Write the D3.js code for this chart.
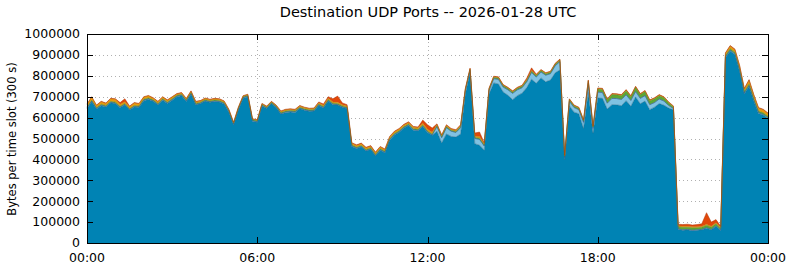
<!DOCTYPE html>
<html>
<head>
<meta charset="utf-8">
<script src="https://cdn.jsdelivr.net/npm/d3@7"></script>
<style>
  body { margin: 0; background: #fff; }
  text { font-family: "DejaVu Sans", sans-serif; fill: #000; }
</style>
</head>
<body>
<svg id="chart" width="790" height="267"></svg>
<script>
// values in thousands of bytes, one slot every 10 minutes from 00:00 to 24:00
var UNIT = 1000;
var keys = ["main", "lightblue", "darkblue", "green", "orange", "red"];
var colors = {main: "#0083b4", lightblue: "#80c2e2", darkblue: "#3a5ea8", green: "#5ea634", orange: "#eb9a0c", red: "#e2470a"};
var edges = {main: "#266b88", lightblue: "#5d9ab8", darkblue: "#2b4a86", green: "#4a8428", orange: "#b87808", red: "#b03808"};

var mainPort = [
  644,677,641,657,651,671,667,647,661,636,
  651,649,681,687,678,661,683,668,683,700,
  705,677,713,661,667,679,673,677,675,665,
  627,566,638,693,700,583,578,656,643,666,
  648,617,625,627,625,643,635,630,631,658,
  646,679,662,660,649,643,462,452,460,440,
  448,417,444,432,492,517,530,550,562,540,
  537,558,529,515,535,479,522,510,507,522,
  713,816,475,468,444,713,766,761,722,707,
  686,705,717,744,784,764,790,771,780,814,
  828,398,656,626,618,548,721,525,694,692,
  641,662,661,657,681,654,699,666,679,638,
  650,667,659,646,637,65,61,63,59,61,
  63,71,63,80,60,886,919,902,822,714,
  750,680,620,612,596
];
var lightBluePort = [
  2,2,2,2,2,2,2,2,2,2, 2,2,2,2,2,2,2,2,2,2,
  2,2,2,2,2,2,2,2,2,2, 2,2,2,2,2,2,2,2,2,2,
  2,2,2,2,2,2,2,2,2,2, 2,2,2,2,2,2,2,2,2,2,
  2,2,2,2,2,2,2,2,2,2, 2,2,2,2,
  22,25,30,25,22,30, 15,10, 25,28,20,
  15,20,22,24,26,30,28,26,28,32,30,28,32,30,34,40,
  10, 22,22,20,25,25,20,
  28,28,28,30,30,30,28,28,26,26,26,24,22,22,20,12,6,
  2,2,2,2,2,2,2,2,2,2,
  3,3,3,3,3,3,3,3,3,3
];
var darkBluePort = [];
for (var i = 0; i < 145; i++) darkBluePort.push(0);
darkBluePort[105] = 5; darkBluePort[106] = 22; darkBluePort[107] = 3;
var greenPort = [
  5,5,5,5,5,5,5,5,5,5, 5,5,5,5,5,5,5,5,5,5,
  5,5,5,5,5,5,5,5,5,5, 5,5,5,5,5,5,5,5,5,5,
  5,5,5,5,5,5,5,5,5,5, 5,5,5,5,5,5,5,5,5,5,
  5,5,5,5,5,5,5,5,5,5, 5,5,5,5,5,5,5,5,5,5,
  5,5,5,5,5,
  7,7,7,7,7,7,7,7,7,7,7,7,7,7,7,7,7,7,7,7,7,7,7,
  15,15,16,18,18,18,20,18,20,18,20,18,18,16,16,12,8,
  10,12,10,12,10,10,12,10,10,8,
  8,8,8,8,8,8,8,8,8,8
];
var orangePort = [
  12,14,10,12,10,12,14,10,8,10,12,10,10,10,8,8,8,8,8,6,6,6,6,8,6,6,6,6,6,6,4,
  3,3,3,3,3,3,3,3,3,3,
  6,6,6,6,6,6,6,6,6,6,6,6,6,6,6,
  8,8,8,8,8,8,8,8,8,8,8,8,8,8,8,8,8,8,
  5,6,6,5,5,6,4,3,6,8,6,
  3,3,3,3,3,3,3,3,3,3, 3,3,3,3,3,3,3,3,3,3,
  3,3,3,3,3,3,3,3,3,3, 3,3,3,3,3,3,3,3,3,3,
  5,5,5,5,5,5,5,5,5,5,
  10,12,12,14,12,18,16,14,14,12
];
var redPort = [
  2,2,2,2,2,2,2, 8, 14,
  2,2,2,2,2,2,2,2,2,2, 2,2,2,2,2,2,2,2,2,2,
  2,2,2,2,2,2,2,2,2,2, 2,2,2,2,2,2,2,2,2,2,
  4,6,8,15,30,8,6,
  3,3,3,3,3,3,3,3,3,3,3,3,3,3,3,
  15,22,20,
  3,3,3,3,3,3,3,3,
  15,22,5,
  2,2,2,2,2,2,2,2,
  8,12,4,
  2,2,2,2,2,2,2,2,2,2, 2,2,2,2,2,2,2,2,2,2, 2,2,2,2,2,2,2,2,2,
  8,8,10,8,10,12,55,20,15,5,
  3,3,3,3,3,3,3,3,3,3
];
var yTicks = [0,100000,200000,300000,400000,500000,600000,700000,800000,900000,1000000];
var titleText = "Destination UDP Ports -- 2026-01-28 UTC";
var yLabel = "Bytes per time slot (300 s)";

var day0 = Date.UTC(2026, 0, 28);
var table = [];
for (var i = 0; i < mainPort.length; i++) {
  table.push({
    time: new Date(day0 + i * 600000),
    main: mainPort[i] * UNIT,
    lightblue: lightBluePort[i] * UNIT,
    darkblue: darkBluePort[i] * UNIT,
    green: greenPort[i] * UNIT,
    orange: orangePort[i] * UNIT,
    red: redPort[i] * UNIT
  });
}

var svg = d3.select("#chart");
var plotLeft = 87, plotRight = 768, plotTop = 34, plotBottom = 243;

var x = d3.scaleUtc()
  .domain([new Date(day0), new Date(day0 + 86400000)])
  .range([plotLeft, plotRight]);
var y = d3.scaleLinear().domain([0, 1000000]).range([plotBottom, plotTop]);
var xTicks = d3.utcHour.every(6).range(new Date(day0), new Date(day0 + 86400001));

// grid
var grid = svg.append("g");
grid.selectAll(".hg").data(yTicks.slice(1, -1)).enter().append("line")
  .attr("x1", plotLeft).attr("x2", plotRight)
  .attr("y1", function(d){ return Math.round(y(d)) + 0.5; })
  .attr("y2", function(d){ return Math.round(y(d)) + 0.5; })
  .attr("stroke", "#b0b0b0").attr("stroke-width", 1).attr("stroke-dasharray", "1,3");
grid.selectAll(".vg").data(xTicks.slice(1, -1)).enter().append("line")
  .attr("y1", plotTop).attr("y2", plotBottom)
  .attr("x1", function(d){ return Math.round(x(d)) + 0.5; })
  .attr("x2", function(d){ return Math.round(x(d)) + 0.5; })
  .attr("stroke", "#b0b0b0").attr("stroke-width", 1).attr("stroke-dasharray", "1,3");

// stacked areas
var stack = d3.stack().keys(keys);
var layers = stack(table);
var area = d3.area()
  .x(function(d){ return x(d.data.time); })
  .y0(function(d){ return y(d[0]); })
  .y1(function(d){ return y(d[1]); });
var topLine = d3.line()
  .x(function(d){ return x(d.data.time); })
  .y(function(d){ return y(d[1]); });

svg.append("g").selectAll("path").data(layers).enter().append("path")
  .attr("d", area)
  .attr("fill", function(d){ return colors[d.key]; });
svg.append("g").selectAll("path").data(layers).enter().append("path")
  .attr("d", topLine)
  .attr("fill", "none")
  .attr("stroke", function(d){ return edges[d.key]; })
  .attr("stroke-width", 0.5);

// frame and ticks
svg.append("rect")
  .attr("x", plotLeft + 0.5).attr("y", plotTop + 0.5)
  .attr("width", plotRight - plotLeft).attr("height", plotBottom - plotTop)
  .attr("fill", "none").attr("stroke", "#000").attr("stroke-width", 1);

var ticks = svg.append("g").attr("stroke", "#000").attr("stroke-width", 1);
ticks.selectAll(".yl").data(yTicks).enter().append("line")
  .attr("x1", plotLeft).attr("x2", plotLeft + 6)
  .attr("y1", function(d){ return Math.round(y(d)) + 0.5; })
  .attr("y2", function(d){ return Math.round(y(d)) + 0.5; });
ticks.selectAll(".yr").data(yTicks).enter().append("line")
  .attr("x1", plotRight - 6).attr("x2", plotRight)
  .attr("y1", function(d){ return Math.round(y(d)) + 0.5; })
  .attr("y2", function(d){ return Math.round(y(d)) + 0.5; });
ticks.selectAll(".xt").data(xTicks).enter().append("line")
  .attr("y1", plotTop).attr("y2", plotTop + 6)
  .attr("x1", function(d){ return Math.round(x(d)) + 0.5; })
  .attr("x2", function(d){ return Math.round(x(d)) + 0.5; });
ticks.selectAll(".xb").data(xTicks).enter().append("line")
  .attr("y1", plotBottom - 6).attr("y2", plotBottom)
  .attr("x1", function(d){ return Math.round(x(d)) + 0.5; })
  .attr("x2", function(d){ return Math.round(x(d)) + 0.5; });

// labels
svg.append("g").selectAll("text").data(yTicks).enter().append("text")
  .attr("x", plotLeft - 7)
  .attr("y", function(d){ return y(d); })
  .attr("dy", "0.35em")
  .attr("text-anchor", "end")
  .style("font-size", "12.5px")
  .text(function(d){ return d; });

svg.append("g").selectAll("text").data(xTicks).enter().append("text")
  .attr("x", function(d){ return x(d); })
  .attr("y", 262)
  .attr("text-anchor", "middle")
  .style("font-size", "12.5px")
  .text(d3.utcFormat("%H:%M"));

svg.append("text")
  .attr("x", 428).attr("y", 17)
  .attr("text-anchor", "middle")
  .style("font-size", "14.5px")
  .text(titleText);

svg.append("text")
  .attr("transform", "translate(15.5,139) rotate(-90)")
  .attr("text-anchor", "middle")
  .style("font-size", "11.5px")
  .text(yLabel);
</script>
</body>
</html>
